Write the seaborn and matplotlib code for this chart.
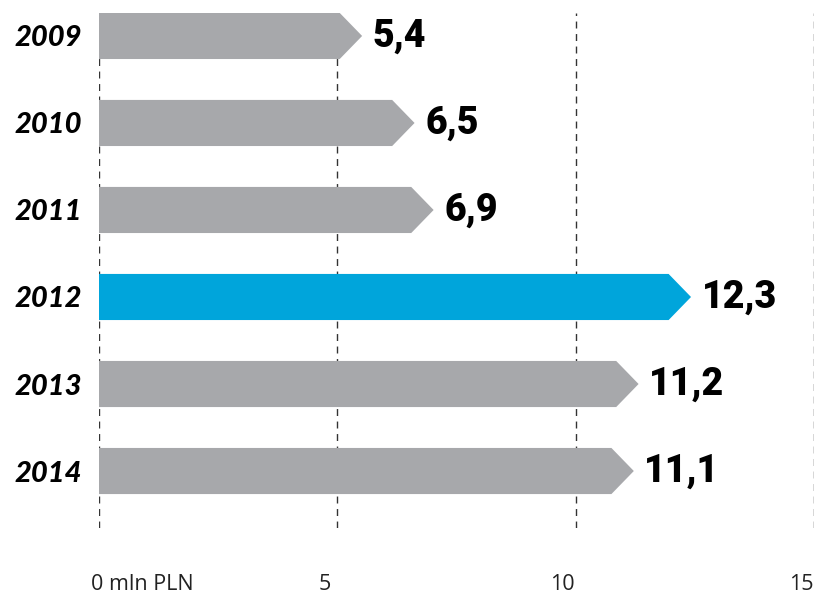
import matplotlib
matplotlib.use("Agg")
import matplotlib.pyplot as plt
from matplotlib.patches import Polygon
from matplotlib.transforms import ScaledTranslation
import seaborn as sns
import pandas as pd

# Data
years = ["2009", "2010", "2011", "2012", "2013", "2014"]
values = [5.4, 6.5, 6.9, 12.3, 11.2, 11.1]
value_labels = ["5,4", "6,5", "6,9", "12,3", "11,2", "11,1"]
highlight_year = "2012"
tick_values = [0, 5, 10, 15]
tick_labels = ["0 mln PLN", "5", "10", "15"]

GRAY = "#a7a8ab"
BLUE = "#00a5db"

sns.set_theme(style="white")
plt.rcParams["font.family"] = ["Lato", "DejaVu Sans"]

df = pd.DataFrame({"year": years, "value": values})
palette = {y: (BLUE if y == highlight_year else GRAY) for y in years}

fig = plt.figure(figsize=(8.15, 6.03), dpi=100)
ax = fig.add_axes([99 / 815, 75 / 603, 715 / 815, 515 / 603])

sns.barplot(data=df, x="value", y="year", hue="year", palette=palette,
            order=years, hue_order=years, orient="h", width=0.53,
            saturation=1, legend=False, ax=ax, zorder=3)

# Turn each bar into an arrow whose point sits just past its value
BACK = 0.35
FWD = 0.12
for cont, val, lab in zip(ax.containers, values, value_labels):
    for bar in cont:
        x0 = bar.get_x()
        y0 = bar.get_y()
        h = bar.get_height()
        w = bar.get_width()
        body_end = x0 + w - BACK
        tip = x0 + w + FWD
        pts = [(x0, y0), (body_end, y0), (tip, y0 + h / 2),
               (body_end, y0 + h), (x0, y0 + h)]
        arrow = Polygon(pts, closed=True, facecolor=bar.get_facecolor(),
                        edgecolor="none", zorder=3)
        bar.set_visible(False)
        ax.add_patch(arrow)
        ax.text(tip + 0.22, y0 + h / 2, lab, ha="left", va="center",
                fontsize=27, fontweight="black", color="black",
                family=["Roboto", "DejaVu Sans"], zorder=4)

ax.set_xlim(0, 15)
ax.set_ylim(5.655, -0.264)
ax.set_xlabel("")
ax.set_ylabel("")

for s in ax.spines.values():
    s.set_visible(False)

ax.grid(False)
for tv in tick_values:
    ax.axvline(tv, color="#333333", lw=1.0, linestyle=(0, (5, 4)), zorder=1)

ax.set_xticks(tick_values)
ax.set_xticklabels(tick_labels, fontsize=15.5, color="#222222",
                   family=["Open Sans", "DejaVu Sans"])
ax.tick_params(axis="x", length=0, pad=33)
for i, t in enumerate(ax.get_xticklabels()):
    if i == 0:
        t.set_ha("left")
        t.set_transform(t.get_transform() + ScaledTranslation(-0.08, 0, fig.dpi_scale_trans))
    else:
        t.set_transform(t.get_transform() + ScaledTranslation(-0.13, 0, fig.dpi_scale_trans))

ax.set_yticks(range(len(years)))
ax.set_yticklabels(years, fontsize=21, fontweight="black", style="italic",
                   color="black", family=["Lato", "DejaVu Sans"])
ax.tick_params(axis="y", length=0, pad=12)

fig.savefig("out.png", dpi=100)
